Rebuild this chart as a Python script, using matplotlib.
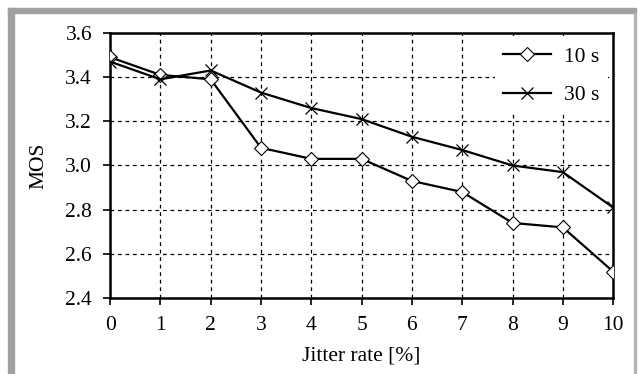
import numpy as np
import matplotlib
matplotlib.use('Agg')
import matplotlib.pyplot as plt
from matplotlib.patches import Rectangle

jitter = [0, 1, 2, 3, 4, 5, 6, 7, 8, 9, 10]
mos_10s = [3.49, 3.41, 3.39, 3.08, 3.03, 3.03, 2.93, 2.88, 2.74, 2.72, 2.52]
mos_30s = [3.47, 3.39, 3.43, 3.33, 3.26, 3.21, 3.13, 3.07, 3.00, 2.97, 2.81]
yticks = [2.4, 2.6, 2.8, 3.0, 3.2, 3.4, 3.6]

plt.rcParams['font.family'] = ['Liberation Serif', 'DejaVu Serif']
plt.rcParams['font.size'] = 15.5

fig = plt.figure(figsize=(6.4, 3.74), dpi=100)
ax = fig.add_axes([0.172, 0.203, 0.786, 0.709])

# gray frame round the figure
W, H = 640.0, 374.0
fig.patches.append(Rectangle((8/W, 0), 6/W, 1 - 8/H, transform=fig.transFigure,
                             color='#a0a0a0', zorder=0))
fig.patches.append(Rectangle((8/W, 1 - 13/H), 628/W, 5/H, transform=fig.transFigure,
                             color='#a0a0a0', zorder=0))
fig.patches.append(Rectangle((634/W, 0), 1.5/W, 1 - 13/H, transform=fig.transFigure,
                             color='#b4b4b4', zorder=0))

ax.plot(jitter, mos_10s, color='black', lw=1.6, marker='D', ms=7,
        mfc='white', mec='black', mew=0.8, label='10 s', zorder=3)
ax.plot(jitter, mos_30s, color='black', lw=1.6, marker='x', ms=9,
        mew=0.9, label='30 s', zorder=3)

ax.set_xlim(0, 10)
ax.set_ylim(2.4, 3.6)
ax.set_xticks(jitter)
ax.set_yticks(yticks)
ax.set_yticklabels(['%.1f' % v for v in yticks])
ax.grid(True, color='black', ls=(0, (3, 3)), lw=0.9)
ax.set_axisbelow(True)

for s in ax.spines.values():
    s.set_linewidth(1.8)
ax.tick_params(direction='out', length=5, width=1.2)
ax.tick_params(axis='x', pad=8)
ax.tick_params(axis='y', pad=8)

ax.set_xlabel('Jitter rate [%]', labelpad=8)
ax.set_ylabel('MOS', labelpad=12)

leg = ax.legend(loc='upper right', frameon=True, fancybox=False, framealpha=1,
                edgecolor='white', borderaxespad=0.25, handlelength=2.2,
                handletextpad=0.6, labelspacing=0.85)
leg.get_frame().set_linewidth(0)

fig.savefig('out.png', dpi=100)
